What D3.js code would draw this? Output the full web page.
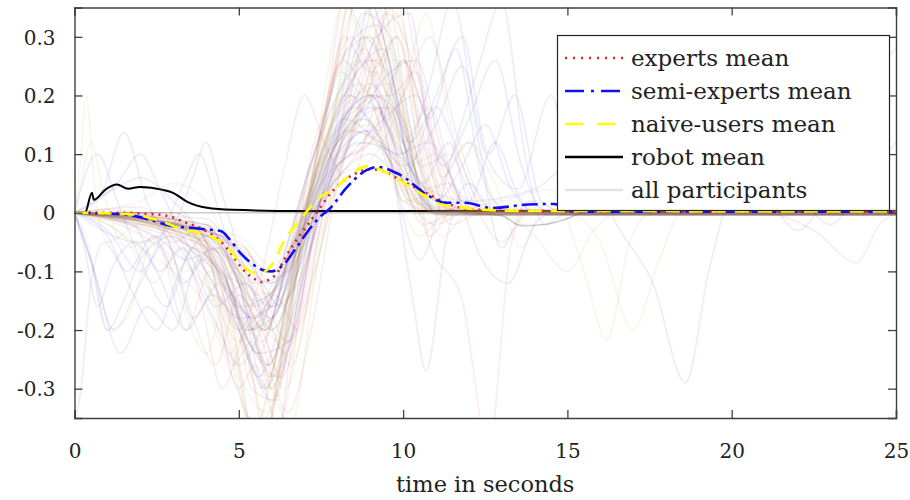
<!DOCTYPE html>
<html>
<head>
<meta charset="utf-8">
<script src="https://cdn.jsdelivr.net/npm/d3@7"></script>
<style>
  html, body { margin: 0; padding: 0; background: #fff; }
  svg { display: block; }
  text { font-family: "DejaVu Serif", "Liberation Serif", serif; fill: #222; }
</style>
</head>
<body>
<svg id="chart" width="910" height="500"></svg>
<script>
// ---- data -------------------------------------------------------------
// Each trace is a flat list of time / value pairs: [t0, v0, t1, v1, ...]
const xTicks = [0, 5, 10, 15, 20, 25];
const yTicks = [-0.3, -0.2, -0.1, 0, 0.1, 0.2, 0.3];
const xLabel = "time in seconds";
const legendLabels = ["experts mean", "semi-experts mean", "naive-users mean", "robot mean", "all participants"];

const expertsMean = [0,0, 1.5,0, 2.2,-0.002, 2.7,-0.004, 3.4,-0.017, 4.0,-0.031, 4.45,-0.049, 4.75,-0.068, 5.13,-0.097, 5.43,-0.111, 5.68,-0.118, 5.95,-0.113, 6.15,-0.104, 6.38,-0.08, 6.65,-0.055, 6.92,-0.034, 7.17,-0.015, 7.4,0.003, 7.87,0.038, 8.48,0.065, 9.0,0.074, 9.4,0.071, 9.9,0.056, 10.7,0.034, 11.1,0.022, 11.9,0.007, 12.9,0.004, 16,0.002, 25,0.001];
const semiExpertsMean = [0,0, 1.5,-0.003, 2.3,-0.012, 2.9,-0.022, 3.6,-0.026, 4.1,-0.029, 4.45,-0.031, 4.73,-0.046, 5.04,-0.068, 5.43,-0.088, 5.8,-0.099, 6.0,-0.1, 6.35,-0.089, 6.77,-0.058, 7.07,-0.034, 7.47,-0.007, 7.75,0.006, 8.3,0.044, 8.9,0.073, 9.2,0.078, 9.9,0.065, 10.8,0.028, 11.3,0.017, 11.9,0.017, 12.7,0.008, 13.8,0.014, 14.6,0.015, 15.2,0.002, 25,0.002];
const naiveMean = [0,0, 1,-0.001, 1.8,-0.003, 2.3,-0.009, 2.9,-0.02, 3.3,-0.029, 3.8,-0.034, 4.33,-0.046, 4.73,-0.063, 5.04,-0.085, 5.34,-0.1, 5.55,-0.103, 5.8,-0.1, 6.1,-0.08, 6.35,-0.051, 6.65,-0.026, 6.95,-0.006, 7.38,0.022, 7.98,0.044, 8.48,0.068, 8.9,0.079, 9.7,0.062, 10.1,0.048, 10.7,0.028, 11.1,0.015, 11.7,0.01, 12.4,0.005, 14,0.003, 25,0.002];
const robotMean = [0,0, 0.32,0, 0.53,0.034, 0.59,0.022, 0.95,0.04, 1.29,0.048, 1.63,0.041, 1.99,0.044, 2.69,0.039, 3.0,0.034, 3.42,0.019, 4.03,0.0085, 4.82,0.005, 6.86,0.003, 25,0.003];

const expertsTraces = [
  [0,0, 1,0.005, 2.5,-0.01, 4,-0.05, 5,-0.2, 5.8,-0.3, 6.6,-0.1, 7.4,0.1, 8.4,0.3, 9.2,0.2, 10,0.02, 11,0.002, 25,0.002],
  [0,0, 2,0, 3.5,-0.03, 4.8,-0.15, 5.6,-0.24, 6.3,-0.12, 7,0.05, 7.6,0.16, 8.2,0.36, 8.9,0.28, 9.8,0.1, 10.6,-0.02, 11.5,-0.0035, 25,-0.0035],
  [0,0, 3,-0.01, 4.5,-0.08, 5.3,-0.25, 6,-0.42, 6.8,-0.15, 7.6,0.05, 8.6,0.25, 9.4,0.4, 10.2,0.15, 11,0.02, 12,0.0005, 25,0.0005],
  [0,0, 2,0.01, 2.8,-0.04, 3.6,-0.18, 4.3,-0.26, 5,-0.14, 5.8,-0.2, 6.6,-0.05, 7.4,0.12, 8.2,0.26, 9,0.2, 9.8,0.3, 10.6,0.12, 11.4,0.0035, 25,0.0035],
  [0,0, 1.5,-0.01, 3.5,-0.02, 5,-0.12, 6,-0.28, 6.7,-0.2, 7.5,0.02, 8.5,0.15, 9.8,0.36, 10.6,0.1, 11.5,-0.02, 12.3,-0.0025, 25,-0.0025],
  [0,0, 3,-0.03, 3.8,-0.14, 4.5,-0.3, 5.2,-0.2, 5.8,-0.16, 6.5,-0.08, 7.2,0.04, 8,0.18, 8.7,0.22, 9.5,0.12, 10.5,0.03, 11,0.002, 25,0.002],
  [0,0, 2.5,0, 4,-0.06, 4.9,-0.22, 5.6,-0.42, 6.4,-0.2, 7.2,0.1, 7.8,0.2, 8.5,0.38, 9.5,0.25, 10.3,0.05, 10.8,-0.04, 11.6,0.01, 12,-0.001, 25,-0.001],
  [0,0, 3,-0.01, 4.2,-0.12, 5,-0.2, 5.7,-0.1, 6.4,0.08, 7,0.2, 7.6,0.12, 8.4,0.05, 9.2,0.18, 10,0.05, 11,0.002, 25,0.002],
  [0,0, 4,-0.03, 5.5,-0.1, 6.5,-0.22, 7.3,-0.1, 8,0.05, 9,0.2, 10,0.16, 10.8,-0.05, 11.8,-0.15, 12.6,-0.4, 13.3,-0.05, 14,0.02, 15,-0.0035, 25,-0.0035],
  [0,0, 2.6,-0.06, 3.4,-0.2, 4.1,-0.1, 5,-0.16, 5.9,-0.14, 6.8,-0.06, 7.8,0.1, 8.8,0.16, 9.8,0.08, 10.5,0.0005, 25,0.0005],
  [0,0, 4.5,-0.05, 5.4,-0.3, 6.1,-0.32, 6.9,-0.05, 8,0.25, 9,0.3, 10,0.05, 11,-0.02, 12,0.0035, 25,0.0035],
  [0,0, 4,-0.02, 5.2,-0.14, 6,-0.18, 7,0, 8.3,0.14, 9.3,0.12, 10.2,0.02, 13,-0.001, 21,-0.001, 22.5,-0.03, 23.8,-0.085, 24.5,-0.02, 25,0],
  [0,0, 3,0, 4.6,-0.1, 5.2,-0.16, 5.9,-0.26, 6.6,-0.12, 7.4,0.08, 8.2,0.2, 9,0.26, 9.9,0.2, 10.6,0.04, 11.4,0.05, 12,-0.0035, 25,-0.0035],
  [0,0, 5,-0.05, 6,-0.12, 7,-0.04, 8,0.08, 9,0.12, 10,0.2, 10.8,0.3, 11.6,0.14, 12.4,0.02, 13,0.0005, 25,0.0005],
  [0,0, 3.5,-0.04, 4.3,-0.16, 5,-0.3, 5.5,-0.26, 6.2,-0.36, 7,-0.12, 7.8,0.12, 8.6,0.2, 9.5,0.34, 10.4,0.24, 11.2,0.06, 12,0.12, 12.8,0.02, 13.4,0.002, 25,0.002],
  [0,0, 4.6,-0.04, 5.6,-0.2, 6.5,-0.34, 7.2,-0.2, 8,0.05, 9,0.22, 9.8,0.4, 10.6,0.2, 11.4,0.02, 12,-0.0025, 25,-0.0025],
  [0,0, 4,-0.06, 4.8,-0.26, 5.4,-0.22, 6,-0.3, 6.8,-0.08, 7.6,0.14, 8.2,0.3, 9,0.24, 9.8,0.3, 10.6,0.08, 11.4,0.0005, 25,0.0005],
  [0,0, 3.2,-0.02, 4.4,-0.1, 5.6,-0.14, 6.4,-0.24, 7.2,-0.06, 8,0.08, 9,0.12, 10,0.26, 10.8,0.14, 11.6,0.03, 12.4,0.0035, 25,0.0035],
  [0,0, 4.8,-0.08, 5.5,-0.18, 6.1,-0.14, 6.8,-0.2, 7.5,-0.02, 8.4,0.16, 9.2,0.2, 10,0.12, 10.8,0.18, 11.6,0.04, 12.4,-0.0035, 25,-0.0035],
  [0,0, 3.8,-0.03, 4.6,-0.2, 5.2,-0.34, 5.8,-0.38, 6.4,-0.22, 7.1,0.02, 7.8,0.22, 8.6,0.4, 9.4,0.3, 10.2,0.1, 11,0.002, 25,0.002],
  [0,0, 5.2,-0.06, 6,-0.16, 6.8,-0.12, 7.6,0.02, 8.6,0.1, 9.6,0.18, 10.6,0.08, 11.4,0.1, 12.2,0.01, 13,-0.05, 13.8,-0.001, 25,-0.001],
  [0,0, 4.2,-0.08, 5,-0.16, 5.7,-0.2, 6.3,-0.28, 7,-0.14, 7.8,0.06, 8.8,0.28, 9.6,0.2, 10.4,0.24, 11.2,0.06, 12,0.0005, 25,0.0005]
];

const semiExpertsTraces = [
  [0,0, 0.8,0.03, 1.5,0.137, 2.2,0.02, 3,-0.05, 4,-0.02, 5,-0.15, 5.7,-0.22, 6.4,-0.1, 7.4,0.08, 8.6,0.24, 9.4,0.28, 10.2,0.08, 11,0.002, 25,0.002],
  [0,0, 2,-0.05, 3,-0.02, 3.6,0.06, 4,0.12, 4.5,0.03, 5.2,-0.1, 6,-0.18, 6.8,-0.05, 7.8,0.12, 9,0.2, 10,0.08, 11,-0.0025, 25,-0.0025],
  [0,0, 0.5,-0.08, 1.2,-0.2, 2,-0.12, 2.8,-0.05, 3.6,-0.18, 4.4,-0.12, 5.3,-0.22, 6.2,-0.28, 7,-0.1, 8,0.1, 9.2,0.3, 10.2,0.34, 10.9,0.08, 11.6,0.0035, 25,0.0035],
  [0,0, 3,-0.02, 4.5,-0.06, 5.5,-0.15, 6.5,-0.1, 7.5,0.05, 8.5,0.18, 9.5,0.1, 10.5,-0.08, 11.5,0.1, 12.3,0.25, 13,0.36, 13.7,0.1, 14.3,-0.02, 15,-0.001, 25,-0.001],
  [0,0, 1,-0.04, 1.8,-0.14, 2.5,-0.2, 3.2,-0.1, 4,-0.04, 5,-0.12, 5.8,-0.3, 6.5,-0.2, 7.3,0, 8.4,0.2, 9,0.36, 9.8,0.2, 10.6,0.05, 11.4,0.12, 12,0.02, 12.6,0.002, 25,0.002],
  [0,0, 4,-0.03, 5.5,-0.1, 6.3,-0.16, 7.2,-0.02, 8.5,0.15, 9.5,0.18, 10.5,0.05, 12,0.02, 14,0.04, 15.5,0.1, 16.5,-0.02, 17.6,-0.12, 18.6,-0.29, 19.3,-0.1, 20,0.02, 21,-0.0035, 25,-0.0035],
  [0,0, 3,-0.02, 4.5,-0.1, 5.3,-0.2, 6,-0.14, 7,0.05, 8,0.2, 8.8,0.26, 9.6,0.1, 10.3,-0.15, 10.7,-0.27, 11.3,-0.05, 12,0.05, 12.8,0.0005, 25,0.0005],
  [0,0, 1.2,0.04, 2,0.06, 3,0.02, 4,-0.05, 5,-0.2, 5.6,-0.28, 6.4,-0.16, 7.3,0.02, 8.2,0.15, 9,0.22, 10,0.12, 11,0.02, 11.8,0.08, 12.5,0.15, 13.3,0.04, 14,0.0035, 25,0.0035],
  [0,0, 4,-0.01, 5,-0.08, 6,-0.12, 7,-0.02, 8,0.1, 9,0.14, 10,0.08, 11,0.15, 11.8,0.25, 12.5,0.1, 13.5,0.04, 14.5,0.2, 15.2,0.05, 16,-0.001, 25,-0.001],
  [0,0, 0.3,-0.06, 0.7,-0.16, 1.1,-0.1, 1.8,-0.05, 2.5,-0.1, 3.4,-0.2, 4.2,-0.14, 5,-0.2, 6,-0.32, 6.8,-0.15, 7.8,0.1, 8.8,0.34, 9.6,0.3, 10.4,0.1, 11,-0.0035, 25,-0.0035],
  [0,0, 4.5,-0.04, 5.5,-0.12, 6.5,-0.1, 7.5,0.02, 8.6,0.12, 9.8,0.1, 11,0.02, 12,-0.001, 20,-0.001, 21,0.02, 22,-0.03, 23,0.04, 24.2,0.18, 24.7,0.26, 25,0.28],
  [0,0, 2,0, 3.2,-0.06, 4.4,-0.2, 5,-0.26, 5.8,-0.18, 6.5,-0.05, 7.5,0.14, 8.3,0.28, 9.2,0.32, 10.2,0.12, 11,0.18, 11.8,0.08, 12.5,0.002, 25,0.002],
  [0,0, 1.3,0.05, 2,0.1, 2.6,0.04, 3.5,-0.06, 4.5,-0.1, 5.6,-0.24, 6.5,-0.22, 7.4,-0.02, 8.4,0.12, 9.6,0.24, 10.4,0.26, 11.2,0.1, 12,0.02, 12.8,0.12, 13.5,0.03, 14,-0.0025, 25,-0.0025],
  [0,0, 5,-0.06, 6,-0.1, 7,-0.02, 8,0.06, 9,0.1, 10,0.06, 11,0.2, 11.8,0.3, 12.6,0.1, 13.4,0.2, 14.2,0.02, 15,0.0005, 25,0.0005],
  [0,0, 4,-0.02, 5,-0.1, 6,-0.16, 7,-0.05, 8.5,0.16, 9.5,0.2, 10.5,0.04, 11.5,-0.001, 21,-0.001, 22,0.02, 23,-0.02, 24,0.05, 25,0.12],
  [0,0, 0.5,-0.08, 1,-0.2, 1.5,-0.15, 2,-0.08, 3,-0.04, 4,-0.1, 5,-0.18, 6,-0.16, 7,0, 8,0.12, 9,0.18, 10,0.1, 11,0.002, 25,0.002],
  [0,0, 2.4,-0.04, 3.3,-0.12, 4.2,-0.06, 5.2,-0.2, 6,-0.18, 7,-0.02, 8,0.14, 9,0.2, 10,0.1, 10.8,0.22, 11.5,0.36, 12.3,0.12, 13,-0.06, 13.8,0.02, 14.5,0.0005, 25,0.0005],
  [0,0, 0.6,-0.1, 1.4,-0.24, 2.2,-0.16, 3,-0.2, 3.8,-0.08, 4.8,-0.14, 5.8,-0.2, 6.6,-0.06, 7.6,0.1, 8.4,0.2, 9.2,0.14, 10,0.26, 10.8,0.16, 11.6,0.28, 12.4,0.06, 13.2,0.002, 25,0.002],
  [0,0, 0.7,0.1, 1.3,0.02, 2,-0.08, 2.8,-0.16, 3.6,-0.06, 4.4,-0.1, 5.4,-0.18, 6.4,-0.12, 7.4,0.04, 8.4,0.1, 9.4,0.16, 10.4,0.2, 11.2,0.08, 12,0.16, 12.8,0.26, 13.6,0.08, 14.4,-0.0035, 25,-0.0035],
  [0,0, 1.8,-0.02, 2.6,-0.1, 3.3,-0.06, 4.3,-0.16, 5.2,-0.12, 6,-0.2, 6.8,-0.1, 7.8,0.06, 8.8,0.14, 9.8,0.1, 10.8,0.12, 11.6,0.04, 12.4,-0.08, 13.2,-0.12, 14,-0.02, 14.6,0.0005, 25,0.0005],
  [0,0, 1,-0.03, 2,-0.1, 2.8,-0.02, 3.4,0.06, 3.8,0.1, 4.3,0.02, 5,-0.12, 5.9,-0.26, 6.8,-0.1, 7.8,0.08, 8.8,0.3, 9.6,0.22, 10.4,0.04, 11.2,0.0035, 25,0.0035],
  [0,-0.36, 0.2,-0.3, 0.5,-0.12, 0.9,-0.05, 1.6,-0.1, 2.4,-0.04, 3.4,-0.08, 4.4,-0.06, 5.4,-0.16, 6.2,-0.12, 7.2,0.02, 8.2,0.16, 9.2,0.12, 10.2,0.04, 11,-0.0025, 25,-0.0025]
];

const naiveTraces = [
  [0,0, 0.2,0.1, 0.35,0.2, 0.6,0.05, 1,-0.05, 2,-0.02, 3,-0.04, 4.2,-0.1, 5.2,-0.24, 6,-0.3, 6.8,-0.1, 7.5,0.08, 8.5,0.25, 9.2,0.3, 10,0.1, 11,0.002, 25,0.002],
  [0,0, 3,-0.02, 4.6,-0.12, 5.4,-0.2, 6.2,-0.12, 7.2,0.05, 8.2,0.2, 9.2,0.18, 10.2,0.04, 11,0, 13,0.02, 14.5,0.04, 15.5,-0.1, 16.2,-0.216, 16.9,-0.05, 17.5,-0.0035, 25,-0.0035],
  [0,0, 4,-0.05, 5,-0.15, 5.8,-0.35, 6.6,-0.15, 7.4,0.05, 8.3,0.24, 9,0.3, 9.8,0.14, 10.6,0, 12,0.01, 15,0, 16,-0.05, 17,-0.2, 17.8,-0.08, 18.5,0.0005, 25,0.0005],
  [0,0, 2,-0.01, 3.5,-0.03, 4.5,-0.08, 5.4,-0.38, 6.1,-0.25, 7,0, 7.8,0.15, 8.7,0.38, 9.6,0.2, 10.4,0.02, 11,0.0035, 25,0.0035],
  [0,0, 2.5,-0.04, 3.3,-0.16, 4,-0.24, 4.8,-0.1, 5.6,-0.16, 6.4,-0.06, 7.2,0.06, 8,0.12, 8.9,0.16, 9.8,0.06, 10.4,-0.0025, 25,-0.0025],
  [0,0, 1,-0.02, 2,-0.06, 3,-0.1, 4,-0.16, 4.8,-0.28, 5.5,-0.36, 6.3,-0.2, 7,0.02, 8,0.2, 8.6,0.26, 9.5,0.1, 10.5,-0.04, 11.4,0.002, 25,0.002],
  [0,0, 4,-0.02, 5,-0.1, 6,-0.2, 7,-0.05, 8,0.12, 9,0.15, 10,0.02, 11,0.04, 12,0.12, 12.8,0.05, 13.6,-0.06, 14.4,0.02, 15,-0.001, 25,-0.001],
  [0,0, 4.2,-0.05, 5.1,-0.2, 5.9,-0.26, 6.7,-0.1, 7.6,0.12, 8.6,0.2, 9.6,0.22, 10.5,0.05, 11.2,-0.0035, 25,-0.0035],
  [0,0, 0.4,-0.05, 1,-0.2, 1.6,-0.18, 2.4,-0.05, 3.4,-0.1, 4.5,-0.06, 5.5,-0.14, 6.5,-0.12, 7.5,0.04, 8.5,0.14, 9.5,0.1, 10.5,0.0005, 25,0.0005],
  [0,0, 3,0, 4.4,-0.06, 5.3,-0.14, 6.2,-0.22, 7,-0.08, 7.6,0.2, 8.2,0.36, 9,0.26, 9.8,0.26, 10.8,0.04, 11.6,0.0035, 25,0.0035],
  [0,0, 5,-0.04, 6,-0.09, 7,-0.02, 8,0.06, 9,0.09, 10,0.2, 10.7,0.34, 11.4,0.16, 12.2,0.03, 13,-0.001, 25,-0.001],
  [0,0, 2,0.02, 3,0.05, 4,0.02, 5,-0.12, 5.8,-0.2, 6.6,-0.1, 7.5,0.1, 8.3,0.16, 9.1,0.24, 10,0.12, 10.8,0.002, 25,0.002],
  [0,0, 4,-0.03, 5,-0.1, 6,-0.14, 7,0, 8,0.1, 9,0.12, 10,0.04, 11,0, 13,0, 14,-0.04, 15,-0.1, 15.8,-0.03, 16.5,-0.0025, 25,-0.0025],
  [0,0, 1,-0.01, 4,-0.05, 5.2,-0.3, 5.9,-0.34, 6.6,-0.18, 7.5,0.06, 8.4,0.28, 9.3,0.36, 10.2,0.14, 11,0.02, 11.6,0.0005, 25,0.0005],
  [0,0, 3.2,-0.02, 4.2,-0.1, 5,-0.28, 5.6,-0.4, 6.2,-0.3, 6.9,-0.06, 7.6,0.16, 8.4,0.34, 9.1,0.42, 9.9,0.2, 10.6,0.03, 11.3,-0.0035, 25,-0.0035],
  [0,0, 4.4,-0.03, 5.4,-0.12, 6.4,-0.3, 7.1,-0.16, 7.9,0.04, 8.9,0.2, 9.8,0.34, 10.6,0.14, 11.4,0.002, 25,0.002],
  [0,0, 2.6,-0.02, 3.8,-0.08, 4.7,-0.24, 5.3,-0.2, 5.9,-0.28, 6.7,-0.08, 7.4,0.1, 8.1,0.24, 8.8,0.2, 9.6,0.28, 10.4,0.06, 11.2,0.0005, 25,0.0005],
  [0,0, 1.5,-0.04, 2.4,-0.12, 3.2,-0.06, 4.2,-0.14, 5,-0.22, 5.8,-0.18, 6.6,-0.26, 7.4,-0.06, 8.2,0.1, 9.2,0.24, 10,0.16, 10.8,0.03, 11.5,-0.0035, 25,-0.0035],
  [0,0, 4.6,-0.05, 5.3,-0.16, 6,-0.3, 6.6,-0.36, 7.3,-0.12, 8.1,0.12, 8.9,0.3, 9.6,0.36, 10.4,0.18, 11.2,0.02, 12,0.0035, 25,0.0035],
  [0,0, 3.6,-0.04, 4.6,-0.12, 5.5,-0.2, 6.3,-0.1, 7.2,0.04, 8.3,0.16, 9.3,0.2, 10.2,0.08, 11,0.1, 11.8,0.02, 12.5,-0.001, 25,-0.001],
  [0,0, 4,-0.05, 4.8,-0.14, 5.6,-0.3, 6.4,-0.2, 7.2,0.02, 8,0.2, 8.8,0.42, 9.6,0.28, 10.4,0.06, 11.2,-0.04, 12,0.0005, 25,0.0005],
  [0,0, 0.2,0.05, 0.5,0.12, 0.9,0.03, 1.6,-0.06, 2.6,-0.04, 3.6,-0.1, 4.6,-0.16, 5.6,-0.2, 6.4,-0.14, 7.2,0, 8.2,0.14, 9.2,0.18, 10.2,0.06, 11,0.002, 25,0.002]
];

const robotTraces = [
  [0,0, 12,0, 13,-0.005, 13.6,-0.022, 14.3,-0.02, 15,-0.01, 15.5,0, 25,0]
];

// ---- layout -----------------------------------------------------------
const svg = d3.select("#chart");
const x = d3.scaleLinear().domain([0, 25]).range([74.5, 896]);
const y = d3.scaleLinear().domain([-0.35, 0.35]).range([418, 7.5]);

const toPairs = arr => d3.range(0, arr.length, 2).map(i => [arr[i], arr[i + 1]]);
const line = d3.line()
  .x(d => x(d[0]))
  .y(d => y(d[1]))
  .curve(d3.curveMonotoneX);

svg.append("defs").append("clipPath").attr("id", "plotClip")
  .append("rect")
  .attr("x", x(0)).attr("y", y(0.35))
  .attr("width", x(25) - x(0)).attr("height", y(-0.35) - y(0.35));

const plot = svg.append("g").attr("clip-path", "url(#plotClip)");

// robot mean sits beneath the participant band
plot.append("path")
  .attr("d", line(toPairs(robotMean)))
  .attr("fill", "none")
  .attr("stroke", "#000")
  .attr("stroke-width", 2);

// individual participant traces, faint and tinted by group
const groups = [
  { traces: robotTraces, color: "#555555", opacity: 0.3 },
  { traces: expertsTraces, color: "#c03030", opacity: 0.085 },
  { traces: semiExpertsTraces, color: "#3030c0", opacity: 0.085 },
  { traces: naiveTraces, color: "#a09c30", opacity: 0.085 }
];
groups.forEach(g => {
  plot.append("g")
    .selectAll("path")
    .data(g.traces)
    .join("path")
    .attr("d", t => line(toPairs(t)))
    .attr("fill", "none")
    .attr("stroke", g.color)
    .attr("stroke-opacity", g.opacity)
    .attr("stroke-width", 1.7);
});

// group means
const means = [
  { data: expertsMean, color: "#ee1c1c", dash: "2,5", width: 2.6 },
  { data: semiExpertsMean, color: "#1010ee", dash: "16,5,3,5", width: 2.6 },
  { data: naiveMean, color: "#ffff00", dash: "14,9", width: 2.6 }
];
means.forEach(m => {
  plot.append("path")
    .attr("d", line(toPairs(m.data)))
    .attr("fill", "none")
    .attr("stroke", m.color)
    .attr("stroke-width", m.width)
    .attr("stroke-dasharray", m.dash);
});

// ---- axes (box with inward ticks on all sides) --------------------------
const axisColor = "#404040";
const fmtY = d => d === 0 ? "0" : d.toFixed(1);

const gBottom = svg.append("g").attr("transform", `translate(0,${y(-0.35)})`)
  .call(d3.axisBottom(x).tickValues(xTicks).tickSize(-8).tickPadding(0).tickFormat(d3.format("d")));
const gTop = svg.append("g").attr("transform", `translate(0,${y(0.35)})`)
  .call(d3.axisTop(x).tickValues(xTicks).tickSize(-8).tickFormat(""));
const gLeft = svg.append("g").attr("transform", `translate(${x(0)},0)`)
  .call(d3.axisLeft(y).tickValues(yTicks).tickSize(-8).tickPadding(0).tickFormat(fmtY));
const gRight = svg.append("g").attr("transform", `translate(${x(25)},0)`)
  .call(d3.axisRight(y).tickValues(yTicks).tickSize(-8).tickFormat(""));

[gBottom, gTop, gLeft, gRight].forEach(g => {
  g.select(".domain").attr("stroke", axisColor).attr("stroke-width", 1.4);
  g.selectAll(".tick line").attr("stroke", axisColor).attr("stroke-width", 1.3);
});
gBottom.selectAll(".tick text")
  .attr("y", 40).attr("dy", null)
  .style("font-family", "'DejaVu Serif', serif").style("font-size", "20px").attr("fill", "#222");
gLeft.selectAll(".tick text")
  .attr("x", -19).attr("dy", "0.36em")
  .style("font-family", "'DejaVu Serif', serif").style("font-size", "20px").attr("fill", "#222");

svg.append("text")
  .attr("x", (x(0) + x(25)) / 2)
  .attr("y", 492)
  .attr("text-anchor", "middle")
  .style("font-size", "22.5px")
  .text(xLabel);

// ---- legend -------------------------------------------------------------
const legend = svg.append("g");
legend.append("rect")
  .attr("x", 557.5).attr("y", 35.5).attr("width", 332).attr("height", 175)
  .attr("fill", "#fff").attr("stroke", "#222").attr("stroke-width", 1.2);

const legendStyles = [
  { color: "#ee1c1c", dash: "2,6" },
  { color: "#1010ee", dash: "19,7,3,7" },
  { color: "#ffff00", dash: "18,14" },
  { color: "#000", dash: null },
  { color: "#e2e2e2", dash: null }
];
legendLabels.forEach((lab, i) => {
  const ly = 58 + i * 33;
  legend.append("line")
    .attr("x1", 565).attr("x2", 623).attr("y1", ly).attr("y2", ly)
    .attr("stroke", legendStyles[i].color)
    .attr("stroke-width", 2.6)
    .attr("stroke-dasharray", legendStyles[i].dash);
  legend.append("text")
    .attr("x", 631).attr("y", ly + 8)
    .style("font-size", "23px")
    .text(lab);
});
</script>
</body>
</html>
